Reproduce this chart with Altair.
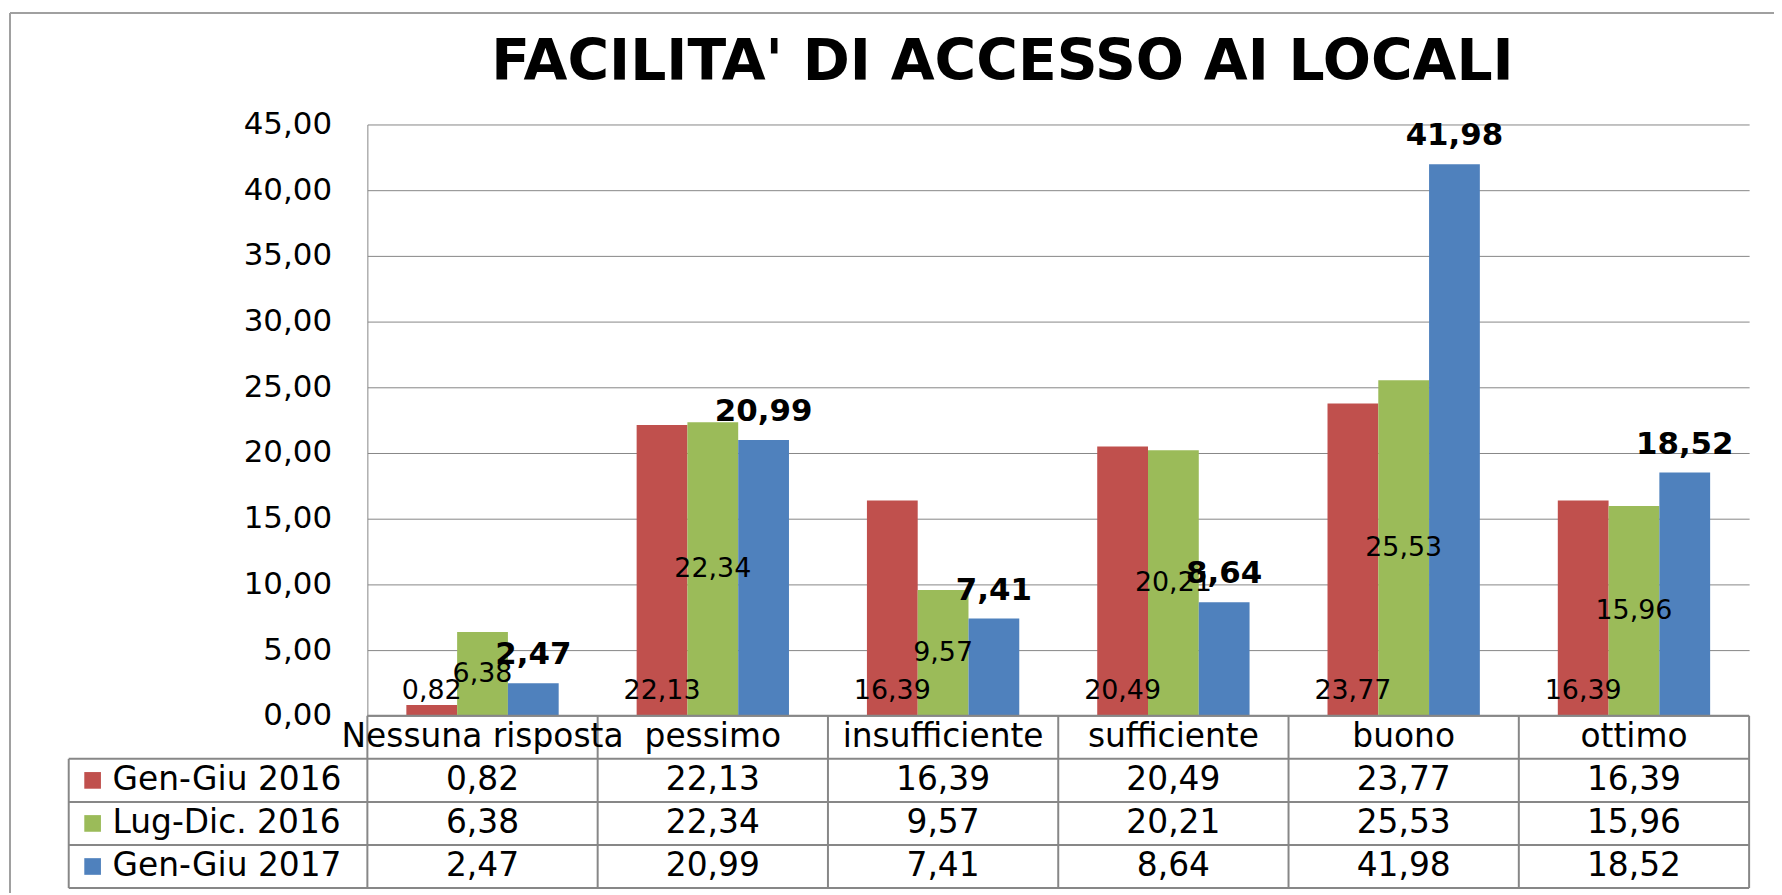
import altair as alt
import pandas as pd

# ---------------- data ----------------
categories = ["Nessuna risposta", "pessimo", "insufficiente", "sufficiente", "buono", "ottimo"]
series_names = ["Gen-Giu 2016", "Lug-Dic. 2016", "Gen-Giu 2017"]
gen_giu_2016 = [0.82, 22.13, 16.39, 20.49, 23.77, 16.39]
lug_dic_2016 = [6.38, 22.34, 9.57, 20.21, 25.53, 15.96]
gen_giu_2017 = [2.47, 20.99, 7.41, 8.64, 41.98, 18.52]
colors = ["#C0504D", "#9BBB59", "#4F81BD"]
y_ticks = [0, 5, 10, 15, 20, 25, 30, 35, 40, 45]
title_text = "FACILITA' DI ACCESSO AI LOCALI"

# ---------------- layout ----------------
FONT = "DejaVu Sans"
W, H = 1388, 594
PAD_L, PAD_T, PAD_R, PAD_B = 361, 115, 25, 178
N_ROWS = 4
ROW_H = 43.25
STEP = W / len(categories)
LEG_LEFT = -300 / STEP
SWATCH_X = -276 / STEP
LEG_TEXT_X = -256 / STEP
GRID = "#868686"
LINE = "#878787"


def fmt(v):
    return f"{v:.2f}".replace(".", ",")


all_series = [gen_giu_2016, lug_dic_2016, gen_giu_2017]
rows = []
for i, c in enumerate(categories):
    for s, name in enumerate(series_names):
        v = all_series[s][i]
        rows.append(dict(cat=c, ci=i, series=name, si=s, value=v, label=fmt(v),
                         tx=i + 0.5, ty=s + 1.5))
df = pd.DataFrame(rows)

X = alt.X("cat:N", sort=categories,
          scale=alt.Scale(domain=categories, paddingInner=0.3385, paddingOuter=0.16925),
          axis=None)
XO = alt.XOffset("series:N", sort=series_names,
                 scale=alt.Scale(domain=series_names, paddingInner=0, paddingOuter=0))
YS = alt.Scale(domain=[0, 45], nice=False, zero=True)
AX = alt.Axis(values=y_ticks, title=None, grid=True, gridColor=GRID, gridWidth=1,
              domain=True, domainColor=GRID, domainWidth=1, ticks=False,
              labelPadding=36, labelFont=FONT, labelFontSize=31,
              labelColor="black",
              labelExpr="replace(format(datum.value, '.2f'), '.', ',')")
COL = alt.Color("series:N", scale=alt.Scale(domain=series_names, range=colors), legend=None)

bars = alt.Chart(df).mark_bar().encode(
    x=X, xOffset=XO,
    y=alt.Y("value:Q", scale=YS, axis=AX),
    color=COL,
)

red_lbl = alt.Chart(df).transform_filter(alt.datum.si == 0).transform_calculate(
    base="0").mark_text(font=FONT, fontSize=27, dy=-25, baseline="middle", color="black").encode(
    x=X, xOffset=XO, y=alt.Y("base:Q", scale=YS, axis=AX), text="label:N")

green_lbl = alt.Chart(df).transform_filter(alt.datum.si == 1).transform_calculate(
    mid="datum.value / 2").mark_text(font=FONT, fontSize=27, baseline="middle", color="black").encode(
    x=X, xOffset=XO, y=alt.Y("mid:Q", scale=YS, axis=AX), text="label:N")

blue_lbl = alt.Chart(df).transform_filter(alt.datum.si == 2).mark_text(
    font=FONT, fontSize=31, fontWeight="bold", dy=-28, baseline="middle", color="black").encode(
    x=X, xOffset=XO, y=alt.Y("value:Q", scale=YS, axis=AX), text="label:N")

plot = alt.layer(bars, red_lbl, green_lbl, blue_lbl)

# ---------------- data table below the plot ----------------
TX = alt.Scale(domain=[0, len(categories)], nice=False, zero=False)
TY = alt.Scale(domain=[0, N_ROWS], range=[H, H + N_ROWS * ROW_H], nice=False, zero=False)

h_rows = [dict(x1=0.0 if r == 0 else LEG_LEFT, x2=float(len(categories)), yy=r) for r in range(N_ROWS + 1)]
v_rows = [dict(xx=LEG_LEFT, y1=1, y2=N_ROWS)] + [dict(xx=float(k), y1=0, y2=N_ROWS) for k in range(len(categories) + 1)]
cat_df = pd.DataFrame(dict(cat=categories, tx=[i + 0.5 for i in range(len(categories))], ty=[0.5] * len(categories)))
leg_df = pd.DataFrame(dict(series=series_names, ty=[s + 1.5 for s in range(len(series_names))],
                           sx=[SWATCH_X] * 3, lx=[LEG_TEXT_X] * 3))

hlines = alt.Chart(pd.DataFrame(h_rows)).mark_rule(color=LINE, strokeWidth=2).encode(
    x=alt.X("x1:Q", scale=TX, axis=None), x2="x2:Q", y=alt.Y("yy:Q", scale=TY, axis=None))
vlines = alt.Chart(pd.DataFrame(v_rows)).mark_rule(color=LINE, strokeWidth=2).encode(
    x=alt.X("xx:Q", scale=TX, axis=None), y=alt.Y("y1:Q", scale=TY, axis=None), y2="y2:Q")
cat_txt = alt.Chart(cat_df).mark_text(font=FONT, fontSize=33, baseline="middle", color="black").encode(
    x=alt.X("tx:Q", scale=TX, axis=None), y=alt.Y("ty:Q", scale=TY, axis=None), text="cat:N")
val_txt = alt.Chart(df).mark_text(font=FONT, fontSize=33, baseline="middle", color="black").encode(
    x=alt.X("tx:Q", scale=TX, axis=None), y=alt.Y("ty:Q", scale=TY, axis=None), text="label:N")
swatch = alt.Chart(leg_df).mark_square(size=280, opacity=1, filled=True).encode(
    x=alt.X("sx:Q", scale=TX, axis=None), y=alt.Y("ty:Q", scale=TY, axis=None), color=COL)
leg_txt = alt.Chart(leg_df).mark_text(font=FONT, fontSize=33, baseline="middle", align="left", color="black").encode(
    x=alt.X("lx:Q", scale=TX, axis=None), y=alt.Y("ty:Q", scale=TY, axis=None), text="series:N")

frame_top = alt.Chart(cat_df).mark_rule(color="#a0a0a0", strokeWidth=1.5).encode(
    x=alt.value(-359), x2=alt.value(W + PAD_R), y=alt.value(-112))
frame_left = alt.Chart(cat_df).mark_rule(color="#a0a0a0", strokeWidth=1.5).encode(
    x=alt.value(-359), y=alt.value(-112), y2=alt.value(H + PAD_B))

table = alt.layer(hlines, vlines, cat_txt, val_txt, swatch, leg_txt, frame_top, frame_left)

chart = alt.layer(plot, table).resolve_scale(x="independent", y="independent").properties(
    width=W, height=H,
    autosize=alt.AutoSizeParams(type="none"),
    padding={"left": PAD_L, "top": PAD_T, "right": PAD_R, "bottom": PAD_B},
    title=alt.TitleParams(title_text, font=FONT, fontSize=57, fontWeight="bold", color="black",
                          anchor="middle", frame="group", dx=-56, offset=-125, baseline="alphabetic"),
).configure_view(stroke=None)

chart.save("out.html", embed_options={"renderer": "svg", "actions": False})
